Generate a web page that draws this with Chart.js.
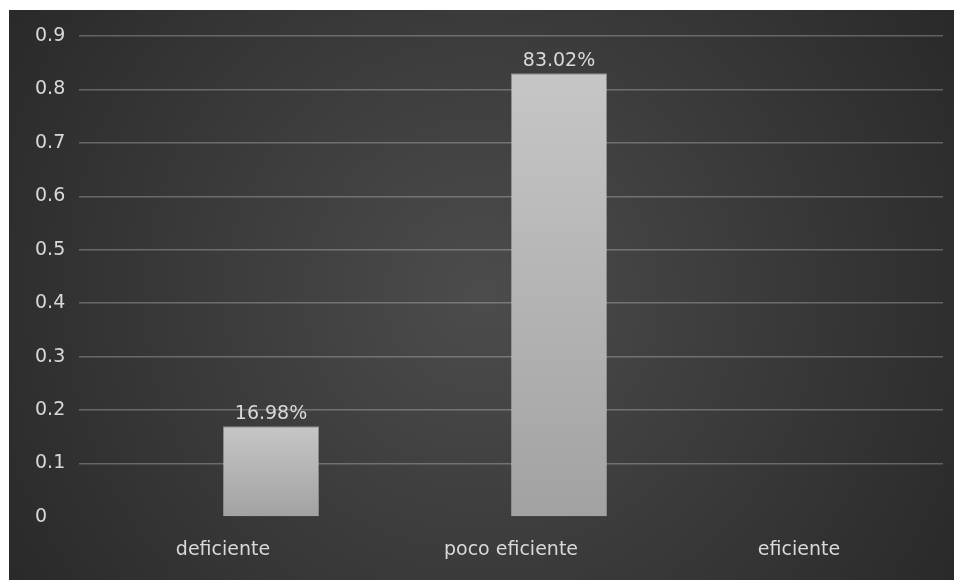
<!DOCTYPE html>
<html>
<head>
<meta charset="utf-8">
<script src="https://cdn.jsdelivr.net/npm/chart.js@4/dist/chart.umd.min.js"></script>
<style>
  html, body { margin: 0; padding: 0; background: #ffffff; width: 954px; height: 580px; overflow: hidden; }
  #wrap { position: absolute; left: 9px; top: 10px; width: 945px; height: 570px; }
  canvas { display: block; }
</style>
</head>
<body>
<div id="wrap"><canvas id="c" width="945" height="570"></canvas></div>
<script>
const categories = ['deficiente', 'poco eficiente', 'eficiente'];
const emptySeries = [null, null, null];
const values = [0.1698, 0.8302, 0];
const valueLabels = ['16.98%', '83.02%', ''];
const yMin = 0;
const yMax = 0.9;
const yStep = 0.1;

const FONT = '"DejaVu Sans", sans-serif';
const TEXT = '#d9d9d9';

const bgPlugin = {
  id: 'bg',
  beforeDraw(chart) {
    const { ctx, width, height } = chart;
    const g = ctx.createRadialGradient(width * 0.5, height * 0.5, 0, width * 0.5, height * 0.5, Math.hypot(width, height) * 0.55);
    g.addColorStop(0, '#4c4c4c');
    g.addColorStop(1, '#262626');
    ctx.save();
    ctx.fillStyle = g;
    ctx.fillRect(0, 0, width, height);
    ctx.restore();
  }
};

const labelPlugin = {
  id: 'valueLabels',
  afterDatasetsDraw(chart) {
    const { ctx } = chart;
    const meta = chart.getDatasetMeta(1);
    ctx.save();
    ctx.font = '19px ' + FONT;
    ctx.fillStyle = TEXT;
    ctx.textAlign = 'center';
    ctx.textBaseline = 'alphabetic';
    meta.data.forEach((bar, i) => {
      const t = valueLabels[i];
      if (t) ctx.fillText(t, bar.x, bar.y - 7);
    });
    ctx.restore();
  }
};

function barGradient(context) {
  const chart = context.chart;
  const y = chart.scales && chart.scales.y;
  if (!chart.chartArea || !y) return '#b4b4b4';
  const v = context.raw || 0;
  const top = y.getPixelForValue(v);
  const base = y.getPixelForValue(0);
  if (!isFinite(top) || !isFinite(base) || base - top < 1) return '#b4b4b4';
  const g = chart.ctx.createLinearGradient(0, top, 0, base);
  g.addColorStop(0, '#c6c6c6');
  g.addColorStop(1, '#a2a2a2');
  return g;
}

new Chart(document.getElementById('c'), {
  type: 'bar',
  data: {
    labels: categories,
    datasets: [{
      data: emptySeries,
      backgroundColor: 'rgba(0,0,0,0)',
      borderWidth: 0,
      categoryPercentage: 0.667,
      barPercentage: 1
    }, {
      data: values,
      backgroundColor: barGradient,
      borderColor: 'rgba(205,205,205,0.55)',
      borderWidth: 1,
      categoryPercentage: 0.667,
      barPercentage: 1
    }]
  },
  options: {
    responsive: false,
    animation: false,
    devicePixelRatio: 1,
    layout: { padding: { left: 26, right: 11, top: 26, bottom: 0 } },
    plugins: { legend: { display: false }, tooltip: { enabled: false } },
    scales: {
      x: {
        grid: { display: false, drawTicks: false },
        border: { display: false },
        ticks: { color: TEXT, font: { family: FONT, size: 19 }, padding: 22, maxRotation: 0 },
        afterFit(s) { s.height = 63; }
      },
      y: {
        min: yMin, max: yMax,
        grid: {
          drawTicks: false,
          lineWidth: 1.5,
          color: (c) => (c.tick && c.tick.value === 0) ? 'rgba(0,0,0,0)' : 'rgba(255,255,255,0.26)'
        },
        border: { display: false },
        ticks: {
          stepSize: yStep,
          color: TEXT,
          font: { family: FONT, size: 19 },
          crossAlign: 'far',
          padding: 0,
          callback: (v) => String(Math.round(v * 10) / 10)
        },
        afterFit(s) { s.width = 44; }
      }
    }
  },
  plugins: [bgPlugin, labelPlugin]
});
</script>
</body>
</html>
